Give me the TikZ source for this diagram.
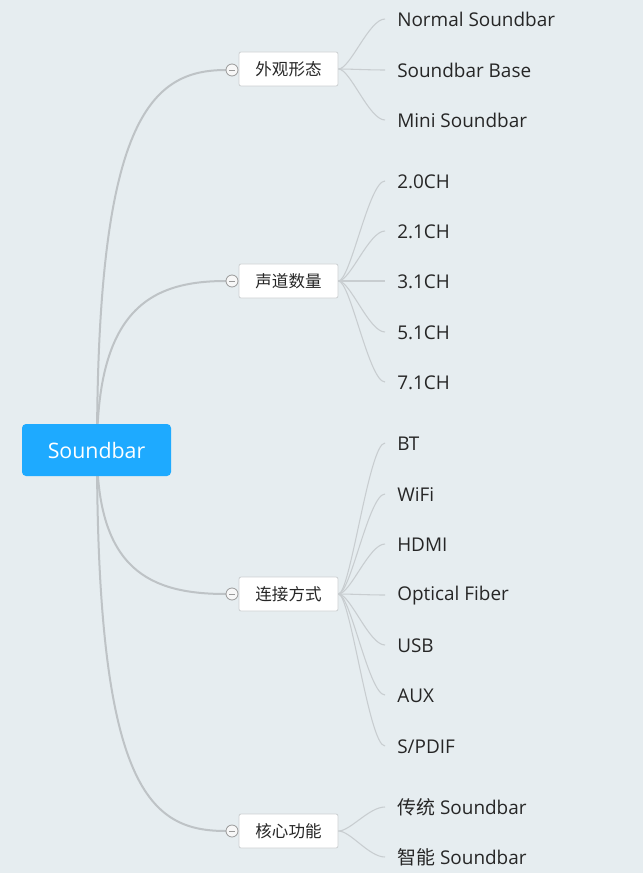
\documentclass[tikz,border=0pt]{standalone}
\usepackage{fontspec}
\setmainfont{Open Sans}
\newfontfamily\cjk{Noto Sans CJK SC}
\definecolor{bg}{RGB}{230,237,240}
\definecolor{rootblue}{RGB}{30,170,255}
\definecolor{mainline}{RGB}{190,195,198}
\definecolor{leafline}{RGB}{200,205,208}
\definecolor{boxline}{RGB}{205,208,210}
\definecolor{txt}{RGB}{38,38,38}
\begin{document}
\begin{tikzpicture}[x=0.75pt,y=-0.75pt,
  rootbox/.style={fill=rootblue,draw=none,rounded corners=3pt,minimum width=111.75pt,minimum height=39pt,inner sep=0pt,text=white,font=\fontsize{16pt}{18pt}\selectfont},
  branchbox/.style={fill=white,draw=boxline,line width=0.6pt,rounded corners=1.5pt,minimum width=74.25pt,minimum height=25.5pt,inner sep=0pt,text=txt,font=\cjk\fontsize{12.4pt}{14pt}\selectfont},
  leaf/.style={anchor=west,inner sep=0pt,yshift=-0.5pt,text=txt,font=\fontsize{14.2pt}{16pt}\selectfont},
  toggle/.style={circle,draw=gray!80,fill=white!94!gray,line width=0.6pt,minimum size=9pt,inner sep=0pt},
  mline/.style={draw=mainline,line width=1.5pt},
  lline/.style={draw=leafline,line width=0.8pt}
]
\useasboundingbox (0,0) rectangle (643,873);
\fill[bg] (0,0) rectangle (643,873);

% main connectors
\coordinate (rc) at (97,450);
\coordinate (t1) at (226,70);
\coordinate (t2) at (226,281);
\coordinate (t3) at (226,594);
\coordinate (t4) at (226,831);
\draw[mline] (rc) .. controls (97,120) and (150,70) .. (t1);
\draw[mline] (rc) .. controls (97,310) and (150,281) .. (t2);
\draw[mline] (rc) .. controls (97,570) and (150,594) .. (t3);
\draw[mline] (rc) .. controls (97,790) and (150,831) .. (t4);

\node[rootbox] (root) at (96.5,450) {Soundbar};

\node[branchbox] (b1) at (288.5,69) {外观形态};
\node[branchbox] (b2) at (288.5,281) {声道数量};
\node[branchbox] (b3) at (288.5,594) {连接方式};
\node[branchbox] (b4) at (288.5,831) {核心功能};

\foreach \n/\y in {1/70,2/281,3/594,4/831}{
  \node[toggle] (c\n) at (232,\y) {};
  \draw[gray!80,line width=0.7pt] (229,\y) -- (235,\y);
}

% leaves
\node[leaf] (l11) at (397,19) {Normal Soundbar};
\node[leaf] (l12) at (397,70) {Soundbar Base};
\node[leaf] (l13) at (397,120) {Mini Soundbar};
\node[leaf] (l21) at (397,181) {2.0CH};
\node[leaf] (l22) at (397,231) {2.1CH};
\node[leaf] (l23) at (397,281) {3.1CH};
\node[leaf] (l24) at (397,332) {5.1CH};
\node[leaf] (l25) at (397,382) {7.1CH};
\node[leaf] (l31) at (397,443) {BT};
\node[leaf] (l32) at (397,494) {WiFi};
\node[leaf] (l33) at (397,544) {HDMI};
\node[leaf] (l34) at (397,595) {Optical Fiber};
\node[leaf] (l35) at (397,645) {USB};
\node[leaf] (l36) at (397,695) {AUX};
\node[leaf] (l37) at (397,746) {S/PDIF};
\node[leaf] (l41) at (397,807) {{\cjk 传统} Soundbar};
\node[leaf] (l42) at (397,857) {{\cjk 智能} Soundbar};

% leaf connectors
\foreach \b/\l in {b1/l11,b1/l12,b1/l13,b2/l21,b2/l22,b2/l23,b2/l24,b2/l25,b3/l31,b3/l32,b3/l33,b3/l34,b3/l35,b3/l36,b3/l37,b4/l41,b4/l42}{
  \path (\b.east) coordinate (s) ([yshift=0.5pt]\l.west) coordinate (e);
  \draw[lline] (s) .. controls ([xshift=9pt]s) and ([xshift=-21pt]e) .. ([xshift=-9pt]e);
}
\end{tikzpicture}
\end{document}
